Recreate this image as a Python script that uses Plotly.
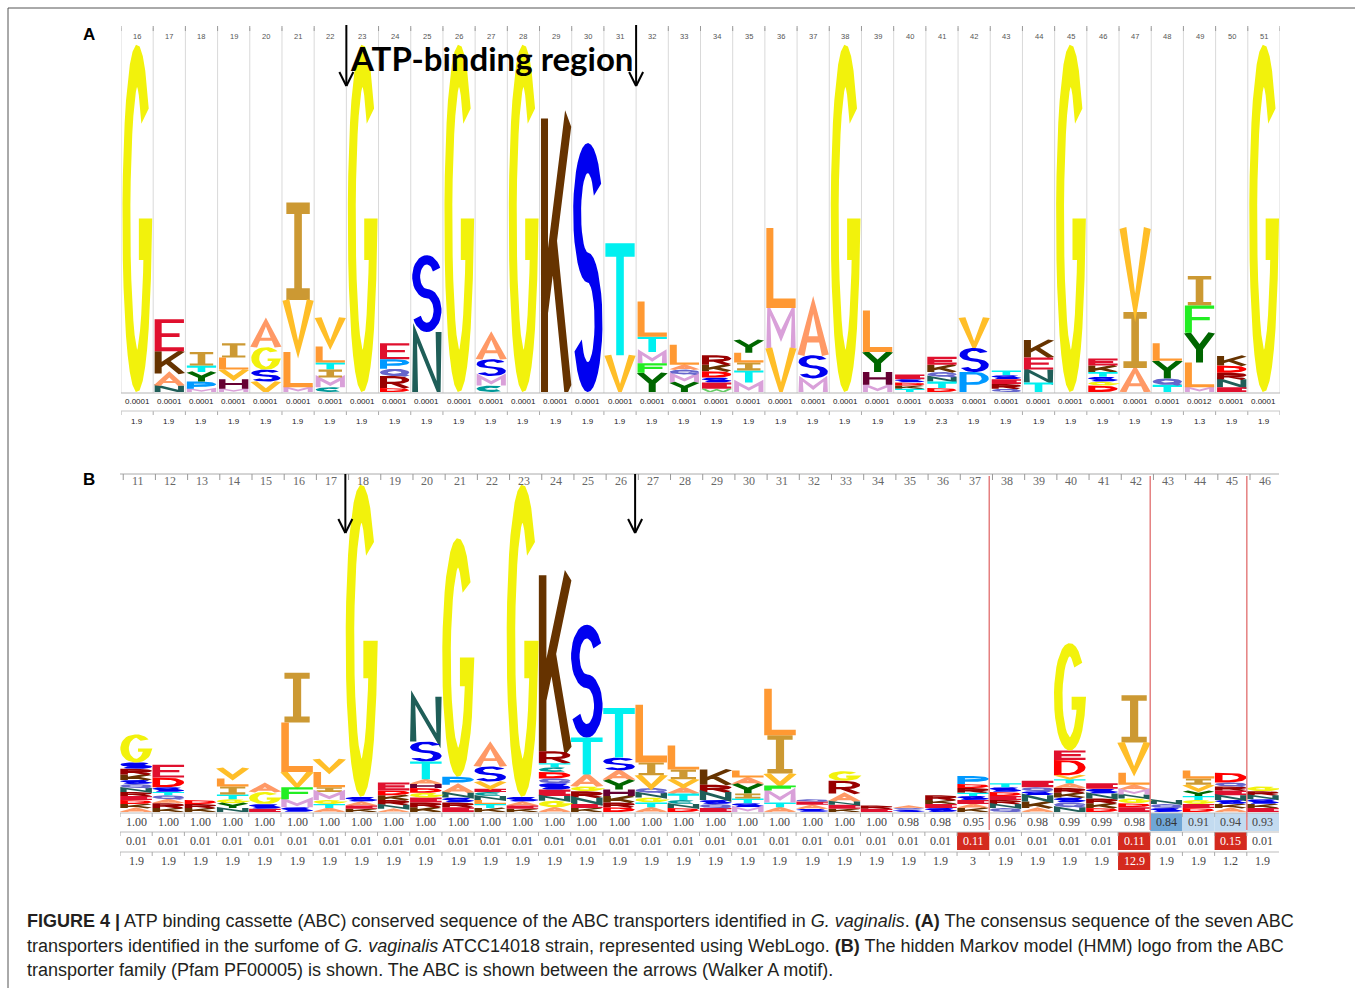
import numpy as np
import plotly.graph_objects as go

# ---------------- data ----------------
A_COLUMNS = list(range(16, 52))
A_STACKS = [
    [("G", 4.34)],
    [("N", .08), ("A", .15), ("K", .28), ("E", .40)],
    [("M", .04), ("P", .09), ("Y", .12), ("T", .08), ("I", .17)],
    [("M", .04), ("H", .12), ("V", .12), ("L", .15), ("I", .18)],
    [("V", .13), ("S", .15), ("G", .28), ("A", .33)],
    [("M", .06), ("L", .44), ("V", .65), ("I", 1.22)],
    [("C", .06), ("M", .12), ("I", .10), ("T", .09), ("L", .20), ("V", .36)],
    [("G", 4.34)],
    [("D", .05), ("R", .15), ("Q", .09), ("P", .12), ("E", .20)],
    [("N", .75), ("S", .96)],
    [("G", 4.34)],
    [("C", .08), ("M", .12), ("S", .21), ("A", .31)],
    [("G", 4.34)],
    [("K", 3.42)],
    [("S", 3.11)],
    [("V", .46), ("T", 1.40)],
    [("Y", .24), ("F", .12), ("M", .14), ("T", .19), ("L", .44)],
    [("Y", .12), ("M", .10), ("Q", .06), ("A", .06), ("L", .25)],
    [("W", .04), ("E", .08), ("S", .06), ("D", .08), ("K", .08), ("R", .12)],
    [("M", .12), ("T", .15), ("I", .10), ("L", .12), ("Y", .16)],
    [("V", .55), ("M", .50), ("L", 1.00)],
    [("M", .17), ("S", .29), ("A", .66)],
    [("G", 4.34)],
    [("M", .09), ("H", .16), ("Y", .25), ("L", .52)],
    [("T", .04), ("K", .04), ("D", .04), ("S", .04), ("E", .06)],
    [("D", .05), ("T", .08), ("N", .06), ("Q", .06), ("K", .09), ("E", .10)],
    [("P", .25), ("S", .30), ("V", .38)],
    [("Q", .04), ("R", .06), ("E", .06), ("S", .05), ("T", .06)],
    [("T", .12), ("N", .16), ("E", .15), ("K", .22)],
    [("G", 4.34)],
    [("D", .08), ("G", .05), ("S", .06), ("T", .06), ("K", .08), ("E", .09)],
    [("A", .30), ("I", .70), ("V", 1.05)],
    [("T", .09), ("Q", .08), ("Y", .22), ("L", .22)],
    [("M", .06), ("L", .31), ("Y", .37), ("F", .34), ("I", .37)],
    [("E", .06), ("N", .10), ("R", .08), ("D", .09), ("K", .12)],
    [("G", 4.34)],
]
A_ROW1 = ["0.0001", "0.0001", "0.0001", "0.0001", "0.0001", "0.0001",
          "0.0001", "0.0001", "0.0001", "0.0001", "0.0001", "0.0001",
          "0.0001", "0.0001", "0.0001", "0.0001", "0.0001", "0.0001",
          "0.0001", "0.0001", "0.0001", "0.0001", "0.0001", "0.0001",
          "0.0001", "0.0033", "0.0001", "0.0001", "0.0001", "0.0001",
          "0.0001", "0.0001", "0.0001", "0.0012", "0.0001", "0.0001"]
A_ROW2 = ["1.9", "1.9", "1.9", "1.9", "1.9", "1.9", "1.9", "1.9", "1.9",
          "1.9", "1.9", "1.9", "1.9", "1.9", "1.9", "1.9", "1.9", "1.9",
          "1.9", "1.9", "1.9", "1.9", "1.9", "1.9", "1.9", "2.3", "1.9",
          "1.9", "1.9", "1.9", "1.9", "1.9", "1.9", "1.3", "1.9", "1.9"]

B_COLUMNS = list(range(11, 47))
B_STACKS = [
    [("A", .05), ("K", .05), ("D", .05), ("E", .05), ("R", .05), ("N", .05), ("Q", .05), ("S", .05), ("K", .07), ("R", .07), ("S", .08), ("G", .35)],
    [("K", .05), ("R", .06), ("A", .05), ("Q", .05), ("T", .04), ("S", .06), ("D", .12), ("E", .16)],
    [("K", .05), ("R", .05), ("D", .05)],
    [("N", .05), ("Y", .06), ("G", .05), ("T", .06), ("I", .10), ("L", .10), ("V", .13)],
    [("E", .04), ("S", .06), ("G", .15), ("A", .10)],
    [("S", .06), ("M", .10), ("F", .15), ("V", .19), ("L", .62), ("I", .62)],
    [("A", .05), ("T", .05), ("G", .05), ("M", .10), ("I", .06), ("L", .19), ("V", .16)],
    [("K", .04), ("E", .04), ("A", .05), ("S", .06), ("G", 3.90)],
    [("A", .04), ("N", .05), ("R", .06), ("K", .06), ("D", .06), ("E", .10)],
    [("K", .06), ("R", .06), ("E", .06), ("G", .06), ("D", .06), ("H", .05), ("A", .06), ("T", .22), ("S", .25), ("N", .56)],
    [("E", .06), ("R", .06), ("S", .06), ("N", .06), ("A", .10), ("P", .10), ("G", 2.98)],
    [("K", .05), ("T", .05), ("L", .05), ("N", .05), ("C", .05), ("E", .04), ("V", .09), ("S", .19), ("A", .28)],
    [("K", .04), ("E", .04), ("A", .05), ("S", .06), ("G", 3.90)],
    [("A", .06), ("G", .08), ("N", .06), ("E", .08), ("S", .08), ("Q", .06), ("D", .08), ("C", .06), ("T", .05), ("R", .15), ("K", 2.20)],
    [("K", .05), ("E", .05), ("N", .08), ("R", .08), ("G", .06), ("A", .15), ("T", .46), ("S", 1.41)],
    [("D", .06), ("R", .06), ("K", .08), ("H", .08), ("Y", .12), ("A", .12), ("S", .16), ("T", .62)],
    [("A", .06), ("T", .06), ("G", .06), ("N", .06), ("Q", .06), ("V", .16), ("I", .16), ("L", .72)],
    [("D", .05), ("N", .05), ("C", .05), ("T", .08), ("A", .08), ("V", .10), ("I", .12), ("L", .30)],
    [("E", .05), ("Q", .05), ("S", .05), ("N", .10), ("R", .09), ("K", .19)],
    [("M", .06), ("S", .05), ("T", .06), ("I", .06), ("Y", .12), ("A", .08), ("L", .09)],
    [("A", .06), ("T", .06), ("M", .15), ("F", .06), ("V", .15), ("I", .48), ("L", .58)],
    [("S", .04), ("A", .05), ("E", .04), ("Q", .03)],
    [("K", .04), ("E", .05), ("N", .04), ("A", .10), ("R", .16), ("G", .12)],
    [("E", .04), ("R", .04)],
    [("S", .03), ("Q", .02), ("A", .03)],
    [("S", .05), ("E", .05), ("K", .05), ("R", .06)],
    [("K", .05), ("A", .05), ("E", .05), ("S", .05), ("T", .04), ("R", .06), ("D", .05), ("P", .10)],
    [("Q", .05), ("N", .05), ("R", .05), ("E", .05), ("D", .05), ("S", .06), ("T", .05)],
    [("A", .05), ("K", .08), ("N", .08), ("S", .05), ("Q", .05), ("E", .08)],
    [("N", .06), ("Q", .06), ("S", .06), ("K", .06), ("R", .06), ("A", .06), ("T", .05), ("V", .05), ("D", .19), ("E", .12), ("G", 1.34)],
    [("D", .05), ("K", .06), ("R", .06), ("N", .06), ("S", .06), ("E", .07)],
    [("E", .06), ("D", .05), ("G", .06), ("N", .05), ("M", .06), ("A", .06), ("L", .15), ("V", .38), ("I", .59)],
    [("S", .05), ("Q", .05), ("N", .05)],
    [("D", .05), ("E", .05), ("G", .05), ("T", .05), ("Y", .06), ("V", .08), ("I", .08), ("L", .10)],
    [("A", .05), ("K", .05), ("S", .05), ("N", .06), ("E", .06), ("R", .05), ("Q", .05), ("D", .12)],
    [("E", .05), ("K", .05), ("S", .06), ("N", .05), ("R", .05), ("G", .06)],
]
B_ROW1 = ["1.00", "1.00", "1.00", "1.00", "1.00", "1.00", "1.00", "1.00", "1.00",
          "1.00", "1.00", "1.00", "1.00", "1.00", "1.00", "1.00", "1.00", "1.00",
          "1.00", "1.00", "1.00", "1.00", "1.00", "1.00", "0.98", "0.98", "0.95",
          "0.96", "0.98", "0.99", "0.99", "0.98", "0.84", "0.91", "0.94", "0.93"]
B_ROW2 = ["0.01", "0.01", "0.01", "0.01", "0.01", "0.01", "0.01", "0.01", "0.01",
          "0.01", "0.01", "0.01", "0.01", "0.01", "0.01", "0.01", "0.01", "0.01",
          "0.01", "0.01", "0.01", "0.01", "0.01", "0.01", "0.01", "0.01", "0.11",
          "0.01", "0.01", "0.01", "0.01", "0.11", "0.01", "0.01", "0.15", "0.01"]
B_ROW3 = ["1.9", "1.9", "1.9", "1.9", "1.9", "1.9", "1.9", "1.9", "1.9",
          "1.9", "1.9", "1.9", "1.9", "1.9", "1.9", "1.9", "1.9", "1.9",
          "1.9", "1.9", "1.9", "1.9", "1.9", "1.9", "1.9", "1.9", "3",
          "1.9", "1.9", "1.9", "1.9", "12.9", "1.9", "1.9", "1.2", "1.9"]

A_ARROWS = [22.5, 31.5]
B_ARROWS = [17.5, 26.5]
B_RED_LINES = [37.5, 42.5, 45.5]

COLORS = {
    'A': '#FF9966', 'C': '#009999', 'D': '#FF0000', 'E': '#E0102E', 'F': '#22EE22',
    'G': '#F2F20C', 'H': '#660033', 'I': '#CC9933', 'K': '#663300', 'L': '#FF9933',
    'M': '#D9A0D9', 'N': '#1F5E58', 'P': '#0099FF', 'Q': '#6666CC', 'R': '#990000',
    'S': '#0000F0', 'T': '#00F0F0', 'V': '#FFBE28', 'W': '#66CC66', 'Y': '#006600'}

W, H = 1355, 988
PX_PER_BIT = 80.0


def py(p):
    return 1 - p / H


# ---------------- glyph geometry ----------------
def arc(cx, cy, rx, ry, a0, a1, n=30):
    t = np.radians(np.linspace(a0, a1, n))
    return [(cx + rx * np.cos(v), cy + ry * np.sin(v)) for v in t]


def glyph_strokes(ch, tx, ty):
    a, b = tx / 2, ty / 2
    S = []
    if ch == 'G':
        S.append((arc(.5, .5, .5 - a, .5 - b, 42, 338) + [(1 - a, .44), (.56, .44)], False))
    elif ch == 'C':
        S.append((arc(.5, .5, .5 - a, .5 - b, 45, 315), False))
    elif ch in ('O', 'Q'):
        S.append((arc(.5, .5, .5 - a, .5 - b, 0, 360, 40), True))
        if ch == 'Q':
            S.append(([(.6, .3), (1 - a * .5, 0)], False))
    elif ch == 'S':
        cyu, ryu = .75 - b / 2, .25 - b / 2
        cyl = .25 + b / 2
        up = arc(.5, cyu, .5 - a, ryu, 25, 270, 24)
        lo = arc(.5, cyl, .5 - a, ryu, 90, -155, 24)
        S.append((up + lo[1:], False))
    elif ch == 'K':
        S += [([(a, 0), (a, 1)], False),
              ([(1 - a * .6, 1), (a + .02, .32)], False),
              ([(.4, .57), (1 - a * .6, 0)], False)]
    elif ch == 'L':
        S.append(([(a, 1), (a, b), (1, b)], False))
    elif ch == 'T':
        S += [([(0, 1 - b), (1, 1 - b)], False), ([(.5, 1 - b), (.5, 0)], False)]
    elif ch == 'I':
        S += [([(.1, 1 - b), (.9, 1 - b)], False), ([(.5, 1 - b), (.5, b)], False),
              ([(.1, b), (.9, b)], False)]
    elif ch == 'E':
        S += [([(1, 1 - b), (a, 1 - b), (a, b), (1, b)], False), ([(a, .5), (.85, .5)], False)]
    elif ch == 'F':
        S += [([(1, 1 - b), (a, 1 - b), (a, 0)], False), ([(a, .52), (.85, .52)], False)]
    elif ch == 'H':
        S += [([(a, 0), (a, 1)], False), ([(1 - a, 0), (1 - a, 1)], False),
              ([(a, .5), (1 - a, .5)], False)]
    elif ch == 'V':
        S.append(([(a * .7, 1), (.5, b * .8), (1 - a * .7, 1)], False))
    elif ch == 'A':
        S += [([(a * .7, 0), (.5, 1 - b * .8), (1 - a * .7, 0)], False),
              ([(.28, .3), (.72, .3)], False)]
    elif ch == 'Y':
        S += [([(a * .7, 1), (.5, .45), (1 - a * .7, 1)], False), ([(.5, .47), (.5, 0)], False)]
    elif ch == 'M':
        S.append(([(a, 0), (a, 1 - b * .3), (.5, .3), (1 - a, 1 - b * .3), (1 - a, 0)], False))
    elif ch == 'N':
        S.append(([(a, 0), (a, 1 - b * .3), (1 - a, b * .3), (1 - a, 1)], False))
    elif ch == 'W':
        S.append(([(a * .5, 1), (.27, b * .3), (.5, .75), (.73, b * .3), (1 - a * .5, 1)], False))
    elif ch in ('P', 'R'):
        mid = .42
        p = [(a, 0), (a, 1 - b), (.5, 1 - b)] + arc(.5, (1 - b + mid) / 2, .5 - a, (1 - b - mid) / 2, 90, -90, 20)[1:] + [(a, mid)]
        S.append((p, False))
        if ch == 'R':
            S.append(([(.45, mid), (1 - a * .7, 0)], False))
    elif ch == 'D':
        p = [(.45, b), (a, b), (a, 1 - b), (.45, 1 - b)] + arc(.45, .5, .55 - a, .5 - b, 90, -90, 24)[1:]
        S.append((p, True))
    return S


def stroke_poly(pts, tx, ty, closed):
    P = np.asarray(pts, float)
    keep = [0]
    for i in range(1, len(P)):
        if np.hypot(*(P[i] - P[keep[-1]])) > 1e-9:
            keep.append(i)
    P = P[keep]
    if closed and np.hypot(*(P[0] - P[-1])) > 1e-9:
        P = np.vstack([P, P[:1]])
    Q = P / np.array([tx, ty])
    d = np.diff(Q, axis=0)
    d = d / np.linalg.norm(d, axis=1)[:, None]
    nr = np.column_stack([-d[:, 1], d[:, 0]])
    n = len(Q)
    off = np.zeros_like(Q)
    for i in range(n):
        if i == 0:
            n1 = nr[-1] if closed else nr[0]
            n2 = nr[0]
        elif i == n - 1:
            n1 = nr[-1]
            n2 = nr[0] if closed else nr[-1]
        else:
            n1, n2 = nr[i - 1], nr[i]
        m = n1 + n2
        L = np.linalg.norm(m)
        m = n2 if L < 1e-9 else m / L
        cosv = max(float(np.dot(m, n2)), 0.35)
        off[i] = m * 0.5 / cosv
    Lp = (Q + off) * np.array([tx, ty])
    Rp = (Q - off) * np.array([tx, ty])
    return np.vstack([Lp, Rp[::-1], Lp[:1]])


TX = {'G': .27, 'C': .27, 'O': .27, 'Q': .27, 'S': .27, 'M': .17, 'N': .2, 'W': .14,
      'I': .26, 'T': .26, 'H': .22}


def add_logo(fig, columns, stacks, xa, ya, pad):
    polys = {}
    for c, stack in zip(columns, stacks):
        base = 0.0
        for ch, h in stack:
            hpx = h * PX_PER_BIT
            tx = TX.get(ch, .24)
            ty = min(.34, max(.12, 2.2 / max(hpx, 1e-3)))
            x0 = c - 0.5 + pad
            wd = 1 - 2 * pad
            for pts, closed in glyph_strokes(ch, tx, ty):
                poly = stroke_poly(pts, tx, ty, closed)
                X = x0 + poly[:, 0] * wd
                Y = base + poly[:, 1] * h
                lst = polys.setdefault(ch, ([], []))
                lst[0].extend(X.tolist() + [None])
                lst[1].extend(Y.tolist() + [None])
            base += h
    for ch, (X, Y) in polys.items():
        fig.add_trace(go.Scatter(x=X, y=Y, mode='lines', fill='toself',
                                 fillcolor=COLORS[ch], line=dict(width=0, color=COLORS[ch]),
                                 hoverinfo='skip', showlegend=False, xaxis=xa, yaxis=ya))


fig = go.Figure()
add_logo(fig, A_COLUMNS, A_STACKS, 'x', 'y', 0.045)
add_logo(fig, B_COLUMNS, B_STACKS, 'x2', 'y2', 0.01)

shapes = []
ann = []


def text(x, y, s, size, color, family, xref='paper', xanchor='center', **kw):
    ann.append(dict(x=x, y=y, xref=xref, yref='paper', text=s, showarrow=False,
                    xanchor=xanchor, yanchor='middle',
                    font=dict(size=size, color=color, family=family), **kw))


# ---- panel A decorations ----
for c in A_COLUMNS + [A_COLUMNS[-1] + 1]:
    xb = c - 0.5
    shapes.append(dict(type='line', xref='x', yref='paper', x0=xb, x1=xb, y0=py(393), y1=py(28),
                       line=dict(color='#d9d9d9', width=1), layer='below'))
    shapes.append(dict(type='line', xref='x', yref='paper', x0=xb, x1=xb, y0=py(26), y1=py(31),
                       line=dict(color='#999999', width=1)))
    shapes.append(dict(type='line', xref='x', yref='paper', x0=xb, x1=xb, y0=py(411), y1=py(415),
                       line=dict(color='#aaaaaa', width=1)))
for yy, col in [(393, '#b5b5b5'), (411, '#c8c8c8')]:
    shapes.append(dict(type='line', xref='x', yref='paper', x0=A_COLUMNS[0] - .5, x1=A_COLUMNS[-1] + .5,
                       y0=py(yy), y1=py(yy), line=dict(color=col, width=1)))
for c, r1, r2 in zip(A_COLUMNS, A_ROW1, A_ROW2):
    text(c, py(36), str(c), 7.5, '#555555', 'Liberation Sans', xref='x')
    text(c, py(401), r1, 8, '#222222', 'Liberation Sans', xref='x')
    text(c, py(421), r2, 8, '#222222', 'Liberation Sans', xref='x')

# ---- panel B decorations ----
shapes.append(dict(type='line', xref='x2', yref='paper', x0=B_COLUMNS[0] - .5, x1=B_COLUMNS[-1] + .5,
                   y0=py(474), y1=py(474), line=dict(color='#aaaaaa', width=1)))
for c in B_COLUMNS:
    xb = c - 0.5
    shapes.append(dict(type='line', xref='x2', yref='paper', x0=xb + .1, x1=xb + .1, y0=py(474), y1=py(480),
                       line=dict(color='#999999', width=1)))
    text(c + .05, py(481), str(c), 12, '#666666', 'Liberation Serif', xref='x2')


def cell_style(row, val):
    v = float(val)
    if row == 0:
        if v < 0.9:
            return '#6fa6d6', '#333333'
        if v < 0.95:
            return '#c3dbf0', '#444444'
        return None, '#444444'
    if row == 1:
        return ('#d42a1e', 'white') if v > 0.05 else (None, '#444444')
    return ('#d42a1e', 'white') if v > 10 else (None, '#444444')


ROW_TOPS = [813, 832, 852]
for ri, (rowvals, top) in enumerate(zip([B_ROW1, B_ROW2, B_ROW3], ROW_TOPS)):
    shapes.append(dict(type='line', xref='x2', yref='paper', x0=B_COLUMNS[0] - .5, x1=B_COLUMNS[-1] + .5,
                       y0=py(top), y1=py(top), line=dict(color='#bdbdbd', width=1)))
    for c, v in zip(B_COLUMNS, rowvals):
        fill, tcol = cell_style(ri, v)
        if fill:
            shapes.append(dict(type='rect', xref='x2', yref='paper', x0=c - .5, x1=c + .5,
                               y0=py(top + 18), y1=py(top), fillcolor=fill, line=dict(width=0), layer='below'))
        shapes.append(dict(type='line', xref='x2', yref='paper', x0=c - .5, x1=c - .5,
                           y0=py(top), y1=py(top + 4), line=dict(color='#aaaaaa', width=1)))
        text(c, py(top + 9), v, 12, tcol, 'Liberation Serif', xref='x2')

for xr in B_RED_LINES:
    shapes.append(dict(type='line', xref='x2', yref='paper', x0=xr, x1=xr, y0=py(476), y1=py(830),
                       line=dict(color='#e58080', width=1.5)))


# ---- arrows ----
def arrow(xref, xv, ytop, ybot):
    shapes.append(dict(type='line', xref=xref, yref='paper', x0=xv, x1=xv, y0=py(ytop), y1=py(ybot),
                       line=dict(color='black', width=2)))
    for dx in (-7, 7):
        shapes.append(dict(type='line', xref=xref, yref='paper', xsizemode='pixel', xanchor=xv,
                           x0=0, x1=dx, y0=py(ybot), y1=py(ybot - 14),
                           line=dict(color='black', width=2)))


for xv in A_ARROWS:
    arrow('x', xv, 25, 86)
for xv in B_ARROWS:
    arrow('x2', xv, 474, 533)

text(sum(A_ARROWS) / 2, py(58), '<b>ATP-binding region</b>', 33, 'black', 'Lato', xref='x')

# ---- panel labels ----
for lab, yy in [('A', 35), ('B', 480)]:
    text(89 / W, py(yy), '<b>%s</b>' % lab, 17, 'black', 'Liberation Sans')

# ---- caption ----
CAPTION = [
    "<b>FIGURE 4 |</b> ATP binding cassette (ABC) conserved sequence of the ABC transporters identified in <i>G. vaginalis</i>. <b>(A)</b> The consensus sequence of the seven ABC",
    "transporters identified in the surfome of <i>G. vaginalis</i> ATCC14018 strain, represented using WebLogo. <b>(B)</b> The hidden Markov model (HMM) logo from the ABC",
    "transporter family (Pfam PF00005) is shown. The ABC is shown between the arrows (Walker A motif).",
]
for line, yy in zip(CAPTION, [921, 946, 970]):
    text(25 / W, py(yy), line, 18, '#231f20', 'Liberation Sans', xanchor='left')

# ---- figure border ----
shapes.append(dict(type='line', xref='paper', yref='paper', x0=8 / W, x1=1, y0=py(8), y1=py(8),
                   line=dict(color='#555555', width=1)))
shapes.append(dict(type='line', xref='paper', yref='paper', x0=8 / W, x1=8 / W, y0=py(8), y1=0,
                   line=dict(color='#555555', width=1)))

fig.update_layout(
    width=W, height=H, margin=dict(l=0, r=0, t=0, b=0),
    paper_bgcolor='white', plot_bgcolor='rgba(0,0,0,0)',
    xaxis=dict(domain=[121 / W, 1280 / W], range=[15.5, 51.5], visible=False, fixedrange=True),
    yaxis=dict(domain=[py(392), py(28)], range=[0, 364 / PX_PER_BIT], visible=False, fixedrange=True),
    xaxis2=dict(domain=[120 / W, 1279 / W], range=[10.5, 46.5], visible=False, fixedrange=True),
    yaxis2=dict(domain=[py(812), py(474)], range=[0, 338 / PX_PER_BIT], visible=False, fixedrange=True),
    shapes=shapes, annotations=ann, showlegend=False,
)
fig.write_html("out.html", config={'displayModeBar': False},
               post_script="document.body.style.margin='0';document.body.style.padding='0';")
